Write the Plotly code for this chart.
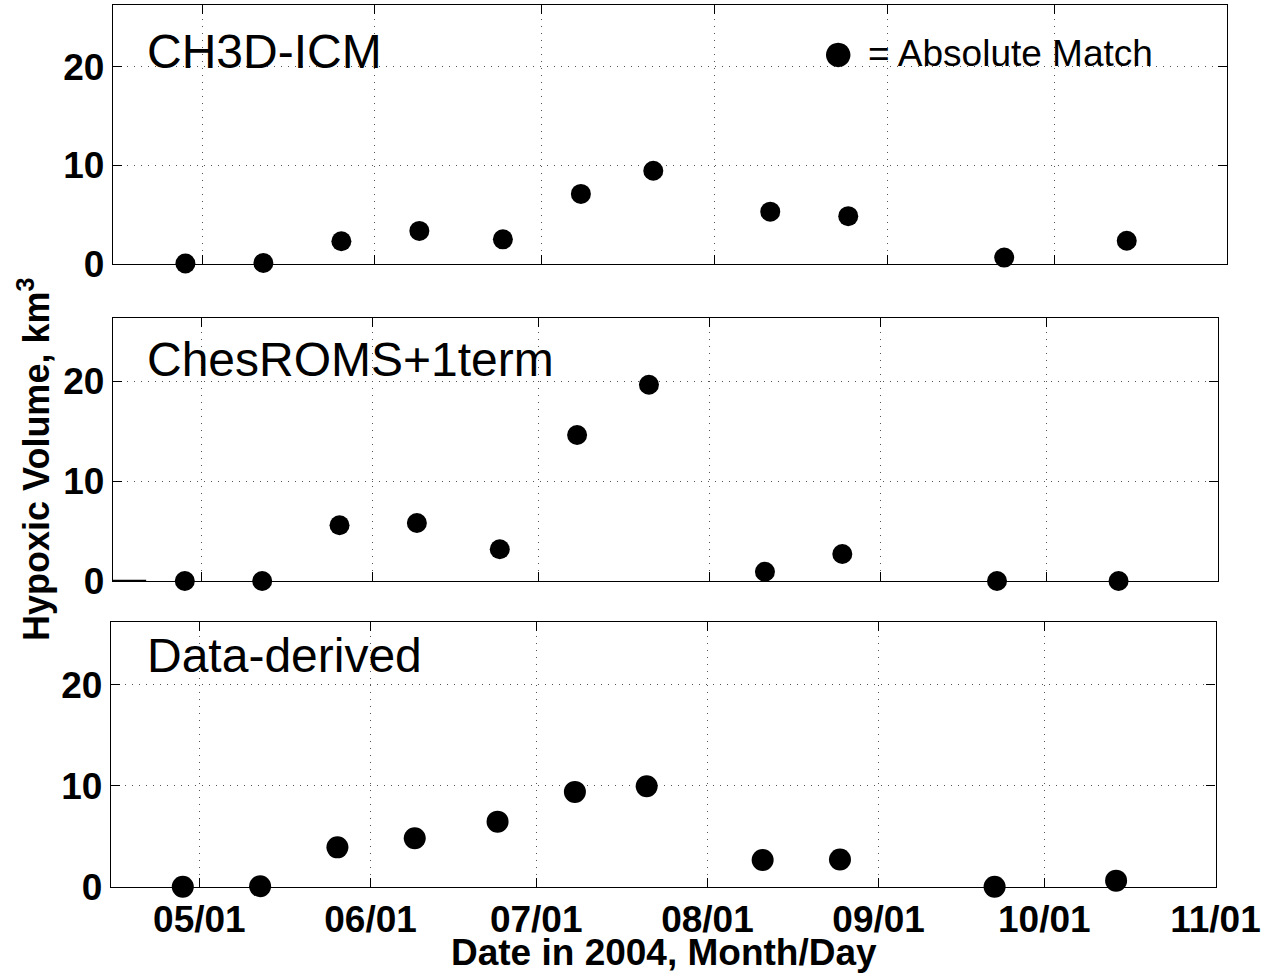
import plotly.graph_objects as go

W, H = 1272, 974

# ---- data ----
dates = ["2004-04-28", "2004-05-12", "2004-05-26", "2004-06-09", "2004-06-24", "2004-07-08",
         "2004-07-21", "2004-08-11", "2004-08-25", "2004-09-22", "2004-10-14"]
ch3d_icm = [0.05, 0.1, 2.3, 3.35, 2.5, 7.1, 9.45, 5.3, 4.85, 0.65, 2.35]
chesroms = [0.0, 0.0, 5.57, 5.8, 3.17, 14.6, 19.63, 0.93, 2.7, 0.0, 0.0]
data_derived = [0.0, 0.05, 3.9, 4.8, 6.45, 9.4, 9.95, 2.65, 2.7, 0.0, 0.6]
lead_x = ["2004-04-15", "2004-04-21"]
lead_y = [0, 0]
panel_names = ["CH3D-ICM", "ChesROMS+1term", "Data-derived"]
tick_dates = ["2004-05-01", "2004-06-01", "2004-07-01", "2004-08-01",
              "2004-09-01", "2004-10-01", "2004-11-01"]
tick_text = ["05/01", "06/01", "07/01", "08/01", "09/01", "10/01", "11/01"]
x_range = ["2004-04-15", "2004-11-01"]
y_range = [0, 26.27]
y_ticks = [0, 10, 20]

# panel boxes in pixels: (left, right, top, bottom)
boxes = [(113, 1227, 4.7, 264), (113, 1218, 318.3, 581), (111, 1215.5, 621.7, 886.7)]
msizes = [20, 20, 22]

FONT = "Liberation Sans, Arial, Helvetica, sans-serif"

fig = go.Figure()
series = [ch3d_icm, chesroms, data_derived]
for i, vals in enumerate(series):
    ax = "" if i == 0 else str(i + 1)
    fig.add_trace(go.Scatter(
        x=dates, y=vals, mode="markers", xaxis="x" + ax, yaxis="y" + ax,
        marker=dict(color="black", size=msizes[i], line=dict(width=0)),
        name="= Absolute Match", showlegend=False, cliponaxis=False))

fig.add_trace(go.Scatter(x=lead_x, y=lead_y, mode="lines", xaxis="x2", yaxis="y2",
                         line=dict(color="black", width=2.5), showlegend=False))

layout = {}
for i, (l, r, t, b) in enumerate(boxes):
    ax = "" if i == 0 else str(i + 1)
    xd = [l / W, r / W]
    yd = [1 - b / H, 1 - t / H]
    layout["xaxis" + ax] = dict(
        domain=xd, range=x_range, type="date", anchor="y" + ax, automargin=False,
        tickmode="array", tickvals=tick_dates, ticktext=tick_text,
        showticklabels=(i == 2), ticks="inside", ticklen=9, tickwidth=1, tickcolor="black",
        showline=True, linecolor="black", linewidth=1.3, mirror="ticks",
        showgrid=True, gridcolor="#555555", gridwidth=1, griddash="1px,6px",
        zeroline=False, tickfont=dict(family=FONT, size=37, color="black", weight="bold"),
        ticklabelstandoff=0)
    layout["yaxis" + ax] = dict(
        domain=yd, range=y_range, anchor="x" + ax, automargin=False,
        tickmode="array", tickvals=y_ticks, ticktext=[str(v) for v in y_ticks],
        ticks="inside", ticklen=9, tickwidth=1, tickcolor="black",
        showline=True, linecolor="black", linewidth=1.3, mirror="ticks",
        showgrid=True, gridcolor="#555555", gridwidth=1, griddash="1px,6px",
        zeroline=False, tickfont=dict(family=FONT, size=37, color="black", weight="bold"),
        ticklabelstandoff=0)

annotations = []
label_y = [51, 359, 655]
for name, yc in zip(panel_names, label_y):
    annotations.append(dict(text=name, xref="paper", yref="paper", x=145 / W, y=1 - yc / H,
                            xanchor="left", yanchor="middle", showarrow=False,
                            font=dict(family=FONT, size=48, color="black")))
# legend key: big dot + text
annotations.append(dict(text="●", xref="paper", yref="paper", x=838 / W, y=1 - 51 / H,
                        xanchor="center", yanchor="middle", showarrow=False,
                        font=dict(family=FONT, size=57, color="black")))
annotations.append(dict(text="= Absolute Match", xref="paper", yref="paper", x=866 / W,
                        y=1 - 54 / H, xanchor="left", yanchor="middle", showarrow=False,
                        font=dict(family=FONT, size=37, color="black")))
annotations.append(dict(text="<b>Date in 2004, Month/Day</b>", xref="paper", yref="paper",
                        x=664 / W, y=1 - 952 / H, xanchor="center", yanchor="middle",
                        showarrow=False, font=dict(family=FONT, size=37, color="black")))
annotations.append(dict(text="<b>Hypoxic Volume, km<sup>3</sup></b>", xref="paper", yref="paper",
                        x=34 / W, y=1 - 460 / H, xanchor="center", yanchor="middle",
                        textangle=-90, showarrow=False,
                        font=dict(family=FONT, size=36, color="black")))

fig.update_layout(
    width=W, height=H, margin=dict(l=0, r=0, t=0, b=0, autoexpand=False),
    paper_bgcolor="white", plot_bgcolor="white",
    showlegend=False,
    annotations=annotations,
    **layout)

fig.write_html("out.html")
